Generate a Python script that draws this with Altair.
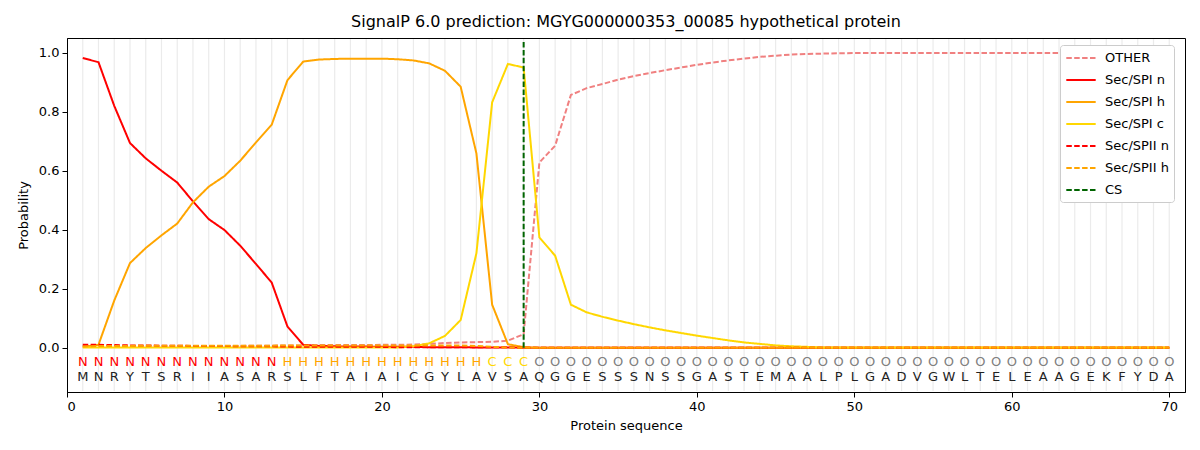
import altair as alt
import pandas as pd

positions = list(range(1, 71))
sequence = list("MNRYTSRIIASARSLFTAIAICGYLAVSAQGGESSSNSSGASTEMAALPLGADVGWLTELEAAGEKFYDA")
regions = list("NNNNNNNNNNNNN" + "HHHHHHHHHHHHH" + "CCC" + "O" * 41)

other = [0.005, 0.005, 0.005, 0.005, 0.005, 0.005, 0.006, 0.006, 0.006, 0.006,
         0.006, 0.007, 0.007, 0.008, 0.008, 0.009, 0.009, 0.009, 0.009, 0.010,
         0.010, 0.011, 0.013, 0.016, 0.018, 0.019, 0.020, 0.024, 0.046, 0.628,
         0.685, 0.857, 0.880, 0.894, 0.909, 0.921, 0.931, 0.941, 0.950, 0.959,
         0.967, 0.974, 0.980, 0.986, 0.990, 0.994, 0.996, 0.997, 0.998] + [0.999] * 21
spi_n = [0.982, 0.968, 0.820, 0.694, 0.642, 0.600, 0.560, 0.496, 0.436, 0.399,
         0.346, 0.284, 0.221, 0.072, 0.010, 0.006, 0.005, 0.004, 0.004, 0.003,
         0.003, 0.003, 0.002, 0.002, 0.002, 0.001, 0.001, 0.001] + [0.0] * 42
spi_h = [0.003, 0.010, 0.160, 0.287, 0.338, 0.381, 0.421, 0.493, 0.546, 0.582,
         0.634, 0.696, 0.756, 0.907, 0.970, 0.977, 0.979, 0.980, 0.980, 0.980,
         0.978, 0.974, 0.964, 0.939, 0.885, 0.659, 0.146, 0.012, 0.002] + [0.0] * 41
spi_c = [0.001] * 21 + [0.005, 0.015, 0.040, 0.094, 0.320, 0.832, 0.962, 0.950,
         0.374, 0.312, 0.146, 0.120, 0.105, 0.092, 0.080, 0.069, 0.059, 0.050,
         0.041, 0.033, 0.025, 0.018, 0.013, 0.008, 0.005, 0.003] + [0.001] * 23
spii_n = [0.010, 0.010, 0.009, 0.008, 0.008, 0.007, 0.007, 0.006, 0.006, 0.006,
          0.005, 0.005, 0.005, 0.004, 0.003, 0.003, 0.003, 0.003, 0.003, 0.003,
          0.002, 0.002, 0.002, 0.002, 0.002, 0.002, 0.002, 0.002] + [0.0] * 42
spii_h = [0.004, 0.006, 0.006, 0.006, 0.007, 0.007, 0.007, 0.007, 0.007, 0.007,
          0.007, 0.007, 0.007, 0.008, 0.008, 0.008, 0.008, 0.008, 0.008, 0.008,
          0.008, 0.008, 0.008, 0.008, 0.008, 0.006, 0.003, 0.001] + [0.0] * 42
cs_pos = 29
cs_top = 1.04

series_names = ["OTHER", "Sec/SPI n", "Sec/SPI h", "Sec/SPI c", "Sec/SPII n", "Sec/SPII h", "CS"]
series_colors = ["#f08080", "#ff0000", "#ffa500", "#ffd700", "#ff0000", "#ffa500", "#006400"]
dash = [5.5, 2.4]
series_dash = [dash, [1, 0], [1, 0], [1, 0], dash, dash, dash]

rows = []
for name, vals in zip(series_names[:6], [other, spi_n, spi_h, spi_c, spii_n, spii_h]):
    for p, v in zip(positions, vals):
        rows.append({"series": name, "pos": p, "prob": v})
rows.append({"series": "CS", "pos": cs_pos, "prob": 0.0})
rows.append({"series": "CS", "pos": cs_pos, "prob": cs_top})
lines_df = pd.DataFrame(rows)

region_color = {"N": "#ff0000", "H": "#ffa500", "C": "#ffd700", "O": "#808080"}
letters_df = pd.DataFrame({
    "pos": positions,
    "aa": sequence,
    "region": regions,
    "rcolor": [region_color[r] for r in regions],
})
grid_df = pd.DataFrame({"pos": positions})

W, H = 1118, 354
xscale = alt.Scale(domain=[0, 71], nice=False, zero=False)
yscale = alt.Scale(domain=[-0.15, 1.05], nice=False, zero=False)

grid = alt.Chart(grid_df).mark_rule(color="#ebebeb", strokeWidth=1.2).encode(
    x=alt.X("pos:Q", scale=xscale), y=alt.value(1), y2=alt.value(H - 1)
)

lines = alt.Chart(lines_df).mark_line(strokeWidth=2, clip=True).encode(
    x=alt.X("pos:Q", scale=xscale, title="Protein sequence",
            axis=alt.Axis(values=[0, 10, 20, 30, 40, 50, 60, 70], format="d")),
    y=alt.Y("prob:Q", scale=yscale, title="Probability",
            axis=alt.Axis(values=[0, 0.2, 0.4, 0.6, 0.8, 1.0], format=".1f")),
    color=alt.Color("series:N", scale=alt.Scale(domain=series_names, range=series_colors),
                    sort=series_names,
                    legend=alt.Legend(title=None, orient="none", legendX=993, legendY=7,
                                      symbolType="M-2.1,0H2.1", symbolSize=196, symbolStrokeWidth=2,
                                      symbolOffset=8, labelOffset=16,
                                      labelFontSize=13, labelFont="DejaVu Sans", rowPadding=7,
                                      padding=5, strokeColor="#cccccc", fillColor="white",
                                      cornerRadius=3, labelColor="black")),
    strokeDash=alt.StrokeDash("series:N", scale=alt.Scale(domain=series_names, range=series_dash),
                              sort=series_names, legend=alt.Legend(title=None)),
    order=alt.Order("pos:Q"),
)

region_text = alt.Chart(letters_df).transform_calculate(ly="-0.047").mark_text(
    fontSize=13, font="DejaVu Sans", baseline="middle", align="center"
).encode(
    x=alt.X("pos:Q", scale=xscale),
    y=alt.Y("ly:Q", scale=yscale),
    text="region:N",
    color=alt.Color("rcolor:N", scale=None, legend=None),
)

aa_text = alt.Chart(letters_df).transform_calculate(ly="-0.099").mark_text(
    fontSize=13, font="DejaVu Sans", baseline="middle", align="center", color="#222222"
).encode(
    x=alt.X("pos:Q", scale=xscale),
    y=alt.Y("ly:Q", scale=yscale),
    text="aa:N",
)

chart = alt.layer(grid, lines, region_text, aa_text).properties(
    width=W, height=H,
    title=alt.TitleParams("SignalP 6.0 prediction: MGYG000000353_00085 hypothetical protein",
                          fontSize=16, fontWeight="normal", font="DejaVu Sans", offset=8,
                          color="black"),
    autosize=alt.AutoSizeParams(type="none"),
    padding={"left": 59, "top": 30, "right": 7, "bottom": 50},
).configure_view(stroke="black", strokeWidth=1).configure_axis(
    domainColor="black", tickColor="black", tickSize=5, labelFontSize=13, titleFontSize=13,
    labelFont="DejaVu Sans", titleFont="DejaVu Sans", labelColor="black", titleColor="black",
    titleFontWeight="normal", grid=False, labelPadding=3,
).configure_axisX(titlePadding=6).configure_axisY(titlePadding=8)

chart.save("out.html", embed_options={"renderer": "svg", "actions": False})
